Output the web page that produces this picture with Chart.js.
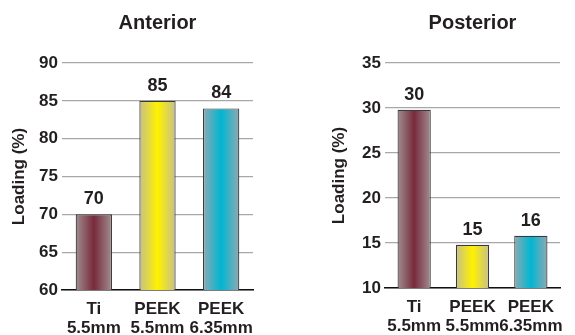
<!DOCTYPE html>
<html><head><meta charset="utf-8">
<script src="https://cdn.jsdelivr.net/npm/chart.js@4"></script>
<style>
html,body{margin:0;padding:0;background:#fff;}
#wrap{position:relative;width:575px;height:335px;}
.box{position:absolute;top:0;height:335px;}
#b1{left:0;width:290px;}
#b2{left:285px;width:290px;}
</style></head><body>
<div id="wrap">
<div class="box" id="b1"><canvas id="c1"></canvas></div>
<div class="box" id="b2"><canvas id="c2"></canvas></div>
</div>
<script>
const categories = [["Ti","5.5mm"],["PEEK","5.5mm"],["PEEK","6.35mm"]];
const anteriorValues = [70, 85, 84];
const posteriorValues = [29.8, 14.8, 15.8];
const anteriorTicks = [60, 65, 70, 75, 80, 85, 90];
const posteriorTicks = [10, 15, 20, 25, 30, 35];
const edgeColors = ["#a08e90", "#c6bf8c", "#8ea9b2"];
const centerColors = ["#782a3c", "#fff200", "#00b6d2"];

const FONT = "'Liberation Sans Narrow', 'Arial Narrow', 'Liberation Sans', sans-serif";
const TXT = "#231f20";

function grad(ctx){
  const chart = ctx.chart;
  const i = ctx.dataIndex;
  if (!chart.chartArea) return centerColors[i];
  const xs = chart.scales.x;
  const cx = xs.getPixelForValue(i);
  const w = (chart.chartArea.width / categories.length) * 0.57;
  const g = chart.ctx.createLinearGradient(cx - w/2, 0, cx + w/2, 0);
  g.addColorStop(0, edgeColors[i]);
  g.addColorStop(0.5, centerColors[i]);
  g.addColorStop(1, edgeColors[i]);
  return g;
}

const valueLabels = {
  id: 'valueLabels',
  afterDatasetsDraw(chart){
    const ctx = chart.ctx;
    const meta = chart.getDatasetMeta(0);
    ctx.save();
    ctx.font = "bold 18px " + FONT;
    ctx.fillStyle = TXT;
    ctx.textAlign = 'center';
    ctx.textBaseline = 'middle';
    meta.data.forEach((bar, i) => {
      const v = chart.data.datasets[0].data[i];
      ctx.fillText(String(Math.round(v)), bar.x, bar.y - 15);
    });
    ctx.restore();
  }
};

function makeChart(id, title, values, ticks, padLeft, padRight, yWidth, xHeight){
  const tickSet = ticks;
  return new Chart(document.getElementById(id), {
    type: 'bar',
    data: {
      labels: categories,
      datasets: [{
        data: values,
        backgroundColor: grad,
        borderColor: '#3a3a3a',
        borderWidth: 1.2,
        borderSkipped: false,
        categoryPercentage: 1,
        barPercentage: 0.57
      }]
    },
    options: {
      responsive: true,
      maintainAspectRatio: false,
      animation: false,
      layout: { padding: { left: padLeft, right: padRight, top: 0, bottom: 0 } },
      plugins: {
        legend: { display: false },
        tooltip: { enabled: false },
        title: {
          display: true,
          text: title,
          color: TXT,
          font: { family: FONT, size: 20, weight: 'bold' },
          padding: { top: 11, bottom: 28 },
          fullSize: false
        }
      },
      scales: {
        x: {
          grid: { display: false, drawTicks: false },
          border: { display: true, color: '#111', width: 1.6 },
          ticks: {
            color: TXT,
            font: { family: FONT, size: 17, weight: 'bold', lineHeight: 1.1 },
            padding: 10,
            maxRotation: 0,
            autoSkip: false
          },
          afterFit(s){ s.height = xHeight; }
        },
        y: {
          min: tickSet[0],
          max: tickSet[tickSet.length - 1],
          afterBuildTicks(s){ s.ticks = tickSet.map(v => ({ value: v })); },
          grid: { color: '#a8a8a8', lineWidth: 1.2, drawTicks: false },
          border: { display: false },
          ticks: {
            color: TXT,
            font: { family: FONT, size: 17, weight: 'bold' },
            padding: 4
          },
          title: {
            display: true,
            text: 'Loading (%)',
            color: TXT,
            font: { family: FONT, size: 17, weight: 'bold' },
            padding: { top: 6, bottom: 0 }
          },
          afterFit(s){ s.width = yWidth; }
        }
      }
    },
    plugins: [valueLabels]
  });
}

makeChart('c1', 'Anterior', anteriorValues, anteriorTicks, 3, 37, 59, 45);
makeChart('c2', 'Posterior', posteriorValues, posteriorTicks, 38, 0, 62, 47);
</script>
</body></html>
